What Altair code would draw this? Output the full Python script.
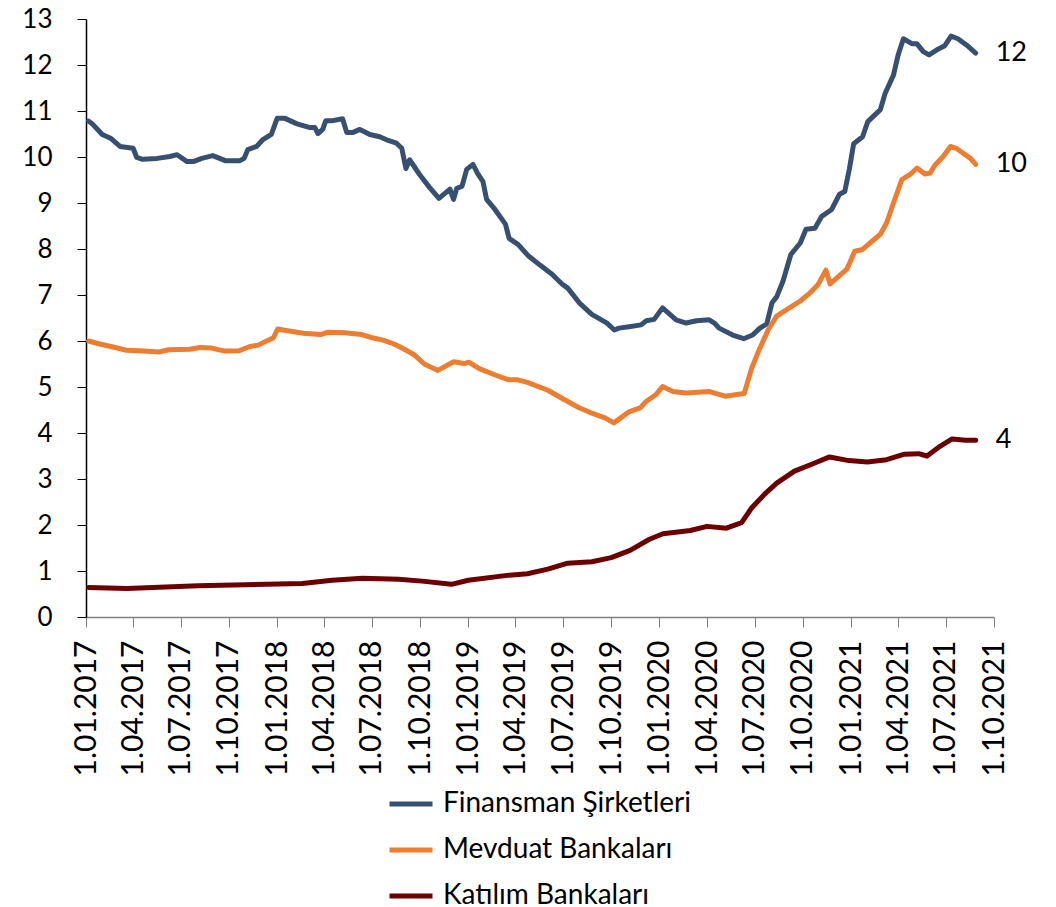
import altair as alt
import pandas as pd

series_names = ["Finansman Şirketleri", "Mevduat Bankaları", "Katılım Bankaları"]
series_colors = ["#375072", "#ED7D31", "#6C0000"]

fin_dates = [
    "2017-01-06", "2017-01-14", "2017-02-01", "2017-02-18", "2017-03-07", "2017-04-01", "2017-04-08",
    "2017-04-19", "2017-05-17", "2017-06-10", "2017-06-24", "2017-07-13", "2017-07-25", "2017-08-10",
    "2017-08-31", "2017-09-24", "2017-10-22", "2017-10-30", "2017-11-06", "2017-11-23", "2017-12-04",
    "2017-12-21", "2018-01-01", "2018-01-16", "2018-02-08", "2018-03-05", "2018-03-14", "2018-03-20",
    "2018-03-29", "2018-04-04", "2018-04-17", "2018-05-06", "2018-05-14", "2018-05-25", "2018-06-08",
    "2018-06-27", "2018-07-16", "2018-08-01", "2018-08-17", "2018-08-27", "2018-09-04", "2018-09-11",
    "2018-09-30", "2018-10-19", "2018-11-06", "2018-11-27", "2018-12-04", "2018-12-10", "2018-12-20",
    "2018-12-29", "2019-01-10", "2019-01-19", "2019-01-29", "2019-02-05", "2019-02-21", "2019-03-13",
    "2019-03-20", "2019-04-06", "2019-04-25", "2019-05-18", "2019-06-10", "2019-06-29", "2019-07-10",
    "2019-08-01", "2019-08-25", "2019-09-23", "2019-10-07", "2019-10-16", "2019-11-04", "2019-11-27",
    "2019-12-07", "2019-12-22", "2020-01-07", "2020-02-02", "2020-02-21", "2020-03-12", "2020-04-05",
    "2020-04-15", "2020-04-24", "2020-05-20", "2020-06-10", "2020-06-27", "2020-07-11", "2020-07-24",
    "2020-08-03", "2020-08-12", "2020-08-24", "2020-09-08", "2020-09-26", "2020-10-07", "2020-10-24",
    "2020-11-06", "2020-11-25", "2020-12-10", "2020-12-20", "2020-12-29", "2021-01-06", "2021-01-23",
    "2021-02-02", "2021-02-26", "2021-03-07", "2021-03-23", "2021-04-01", "2021-04-11", "2021-04-28",
    "2021-05-07", "2021-05-19", "2021-05-30", "2021-06-14", "2021-06-29", "2021-07-11", "2021-07-24",
    "2021-08-10", "2021-08-27",
]
fin_values = [
    10.78, 10.71, 10.49, 10.40, 10.23, 10.19, 9.99,
    9.95, 9.97, 10.01, 10.05, 9.90, 9.90, 9.97,
    10.03, 9.92, 9.92, 9.97, 10.16, 10.23, 10.37,
    10.49, 10.84, 10.84, 10.72, 10.64, 10.64, 10.51,
    10.60, 10.79, 10.79, 10.83, 10.53, 10.53, 10.60,
    10.49, 10.44, 10.36, 10.30, 10.19, 9.75, 9.94,
    9.62, 9.34, 9.10, 9.30, 9.08, 9.32, 9.36,
    9.73, 9.84, 9.64, 9.47, 9.08, 8.86, 8.54,
    8.23, 8.10, 7.86, 7.65, 7.45, 7.24, 7.15,
    6.83, 6.58, 6.39, 6.24, 6.28, 6.31, 6.35,
    6.44, 6.47, 6.72, 6.46, 6.39, 6.44, 6.46,
    6.39, 6.28, 6.13, 6.05, 6.13, 6.28, 6.37,
    6.83, 6.96, 7.30, 7.88, 8.13, 8.43, 8.45,
    8.71, 8.86, 9.19, 9.25, 9.75, 10.29, 10.44,
    10.77, 11.03, 11.38, 11.78, 12.22, 12.57, 12.46,
    12.46, 12.29, 12.22, 12.33, 12.42, 12.63, 12.57,
    12.43, 12.26,
]

mev_dates = [
    "2017-01-06", "2017-01-29", "2017-02-22", "2017-03-19", "2017-04-21", "2017-05-20", "2017-06-08",
    "2017-07-18", "2017-08-07", "2017-08-27", "2017-09-23", "2017-10-21", "2017-11-10", "2017-11-26",
    "2017-12-08", "2017-12-25", "2018-01-02", "2018-01-18", "2018-02-20", "2018-03-25", "2018-04-07",
    "2018-05-10", "2018-06-12", "2018-07-02", "2018-07-22", "2018-08-11", "2018-08-24", "2018-09-20",
    "2018-10-09", "2018-11-04", "2018-12-04", "2018-12-24", "2019-01-02", "2019-01-22", "2019-02-24",
    "2019-03-18", "2019-04-04", "2019-04-24", "2019-06-02", "2019-06-28", "2019-07-30", "2019-08-25",
    "2019-09-19", "2019-10-06", "2019-11-04", "2019-11-26", "2019-12-06", "2019-12-25", "2020-01-07",
    "2020-01-27", "2020-02-21", "2020-04-06", "2020-05-05", "2020-06-11", "2020-06-25", "2020-07-08",
    "2020-07-27", "2020-08-12", "2020-08-31", "2020-09-26", "2020-10-15", "2020-10-30", "2020-11-14",
    "2020-11-22", "2020-12-24", "2021-01-08", "2021-01-23", "2021-02-06", "2021-02-26", "2021-03-10",
    "2021-03-23", "2021-04-08", "2021-04-24", "2021-05-07", "2021-05-22", "2021-06-01", "2021-06-10",
    "2021-06-26", "2021-07-10", "2021-07-22", "2021-08-17", "2021-08-27",
]
mev_values = [
    6.00, 5.93, 5.87, 5.80, 5.78, 5.76, 5.81,
    5.82, 5.86, 5.85, 5.78, 5.79, 5.88, 5.91,
    5.98, 6.07, 6.26, 6.23, 6.17, 6.14, 6.19,
    6.18, 6.14, 6.07, 6.02, 5.94, 5.87, 5.70,
    5.50, 5.36, 5.55, 5.51, 5.54, 5.40, 5.25,
    5.16, 5.16, 5.10, 4.93, 4.76, 4.56, 4.43,
    4.33, 4.22, 4.46, 4.55, 4.68, 4.83, 5.01,
    4.90, 4.87, 4.90, 4.80, 4.86, 5.40, 5.77,
    6.25, 6.54, 6.68, 6.87, 7.05, 7.23, 7.54,
    7.24, 7.56, 7.95, 7.99, 8.13, 8.32, 8.57,
    9.00, 9.51, 9.62, 9.76, 9.63, 9.65, 9.82,
    10.01, 10.23, 10.18, 9.97, 9.84,
]

kat_dates = [
    "2017-01-06", "2017-03-20", "2017-08-03", "2018-02-18", "2018-04-16", "2018-06-13", "2018-08-21",
    "2018-10-05", "2018-11-30", "2019-01-01", "2019-03-20", "2019-04-24", "2019-06-02", "2019-07-10",
    "2019-08-25", "2019-10-01", "2019-11-06", "2019-12-13", "2020-01-08", "2020-02-29", "2020-04-01",
    "2020-05-08", "2020-06-06", "2020-06-25", "2020-07-20", "2020-08-12", "2020-09-15", "2020-10-18",
    "2020-11-21", "2020-12-28", "2021-02-01", "2021-03-10", "2021-04-13", "2021-05-10", "2021-05-26",
    "2021-06-20", "2021-07-13", "2021-08-08", "2021-08-27",
]
kat_values = [
    0.64, 0.62, 0.68, 0.73, 0.80, 0.84, 0.82,
    0.78, 0.71, 0.80, 0.91, 0.94, 1.04, 1.17,
    1.20, 1.29, 1.45, 1.69, 1.81, 1.88, 1.97,
    1.93, 2.05, 2.37, 2.67, 2.91, 3.17, 3.32,
    3.48, 3.40, 3.37, 3.42, 3.54, 3.55, 3.50,
    3.71, 3.87, 3.84, 3.84,
]

tick_quarters = [(y, m) for y in range(2017, 2022) for m in (1, 4, 7, 10)]
y_ticks = list(range(0, 14))

frames = []
for name, ds, vs in zip(series_names, [fin_dates, mev_dates, kat_dates], [fin_values, mev_values, kat_values]):
    frames.append(pd.DataFrame({"series": name, "date": ds, "value": vs}))
df = pd.concat(frames, ignore_index=True)
last = df.groupby("series", sort=False).tail(1)

FONT = "Lato"

x_enc = alt.X(
    "date:T",
    scale=alt.Scale(
        type="utc",
        domain=[alt.DateTime(year=2017, month=1, date=1, utc=True),
                alt.DateTime(year=2021, month=10, date=1, utc=True)],
    ),
    axis=alt.Axis(
        values=[alt.DateTime(year=y, month=m, date=1, utc=True) for y, m in tick_quarters],
        format="%-d.%m.%Y",
        labelAngle=-90,
        labelFontSize=30,
        labelFont=FONT,
        labelColor="black",
        labelOverlap=False,
        labelBound=False,
        tickSize=10,
        tickColor="#7f7f7f",
        domainColor="#7f7f7f",
        domainWidth=1.5,
        labelPadding=13,
        grid=False,
        title=None,
    ),
)
y_enc = alt.Y(
    "value:Q",
    scale=alt.Scale(domain=[0, 13], nice=False),
    axis=alt.Axis(
        values=y_ticks,
        labelFontSize=26,
        labelFont=FONT,
        labelColor="black",
        tickSize=9,
        tickColor="black",
        domainColor="black",
        domainWidth=1.5,
        labelPadding=25,
        grid=False,
        title=None,
    ),
)
color_enc = alt.Color(
    "series:N",
    scale=alt.Scale(domain=series_names, range=series_colors),
    sort=series_names,
    legend=alt.Legend(
        orient="none",
        legendX=301,
        legendY=761,
        title=None,
        symbolType="stroke",
        symbolSize=1849,
        symbolStrokeWidth=5,
        labelFontSize=28,
        labelFont=FONT,
        labelColor="black",
        labelOffset=8,
        labelLimit=0,
        rowPadding=8,
        padding=0,
    ),
)

lines = alt.Chart(df).mark_line(strokeWidth=5, strokeJoin="round", strokeCap="round").encode(
    x=x_enc, y=y_enc, color=color_enc
)
labels = alt.Chart(last).mark_text(
    align="left", baseline="middle", dx=20, fontSize=27, font=FONT, color="black"
).encode(
    x="date:T", y="value:Q", text=alt.Text("value:Q", format=".0f")
)

chart = (
    alt.layer(lines, labels)
    .properties(
        width=908,
        height=598,
        autosize=alt.AutoSizeParams(type="none"),
        padding={"left": 78, "top": 11, "right": 40, "bottom": 291},
    )
    .configure_view(stroke=None)
)

chart.save("out.html", embed_options={"renderer": "svg", "actions": False})
